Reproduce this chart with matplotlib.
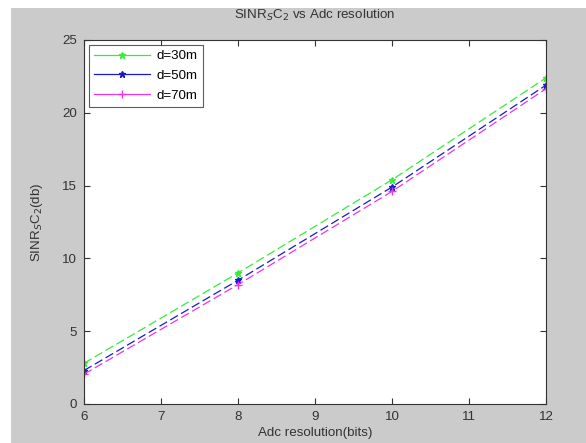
import matplotlib
matplotlib.use("Agg")
import matplotlib.pyplot as plt
from matplotlib.patches import Rectangle

plt.rcParams['font.family'] = ['Liberation Sans', 'DejaVu Sans']

bits = [6, 8, 10, 12]
sinr_30 = [2.8, 9.0, 15.4, 22.4]
sinr_50 = [2.3, 8.5, 14.9, 21.9]
sinr_70 = [2.05, 8.2, 14.6, 21.65]
labels = ['d=30m', 'd=50m', 'd=70m']
xticks = [6, 7, 8, 9, 10, 11, 12]
yticks = [0, 5, 10, 15, 20, 25]

FS = 9.6
TXT = '#333333'

fig = plt.figure(figsize=(5.86, 4.43), dpi=100, facecolor='white')
bg = Rectangle((11/586, 0), 1 - 11/586, (443 - 8)/443,
               transform=fig.transFigure, facecolor='#cbcbcb',
               edgecolor='none', zorder=-10)
fig.add_artist(bg)
ax = fig.add_axes([84/586, (443 - 404)/443, 462/586, 364/443])
ax.set_zorder(5)
ax.set_facecolor('white')

ax.plot(bits, sinr_30, linestyle=(0, (7, 3)), color='#33ee33', marker='*',
        markersize=5, linewidth=0.9, label=labels[0])
ax.plot(bits, sinr_50, linestyle=(0, (7, 3)), color='#1a1acc', marker='*',
        markersize=5, linewidth=0.9, label=labels[1])
ax.plot(bits, sinr_70, linestyle=(0, (7, 3)), color='#ee33ee', marker='+',
        markersize=6, linewidth=0.9, label=labels[2])

ax.set_xlim(6, 12)
ax.set_ylim(0, 25)
ax.set_xticks(xticks)
ax.set_yticks(yticks)
ax.tick_params(direction='in', length=4, width=0.8, labelsize=FS,
               top=True, right=True, colors=TXT)
ax.tick_params(axis='x', pad=5)
ax.tick_params(axis='y', pad=5)
for s in ax.spines.values():
    s.set_linewidth(0.8)
    s.set_color('#333333')

ax.set_title('SINR$_S$C$_2$ vs Adc resolution', fontsize=FS, color=TXT, pad=15)
ax.set_xlabel('Adc resolution(bits)', fontsize=FS, color=TXT, labelpad=3)
ax.set_ylabel('SINR$_S$C$_2$(db)', fontsize=FS, color=TXT, labelpad=12)

leg = ax.legend(loc='upper left', fontsize=FS, frameon=True, fancybox=False,
                edgecolor='#333333', handlelength=4.2, borderaxespad=0.35,
                labelspacing=0.55, handletextpad=0.5, borderpad=0.4)
leg.get_frame().set_linewidth(0.8)
for h in leg.get_lines():
    h.set_linestyle('-')

fig.savefig('out.png', dpi=100, facecolor=fig.get_facecolor())
